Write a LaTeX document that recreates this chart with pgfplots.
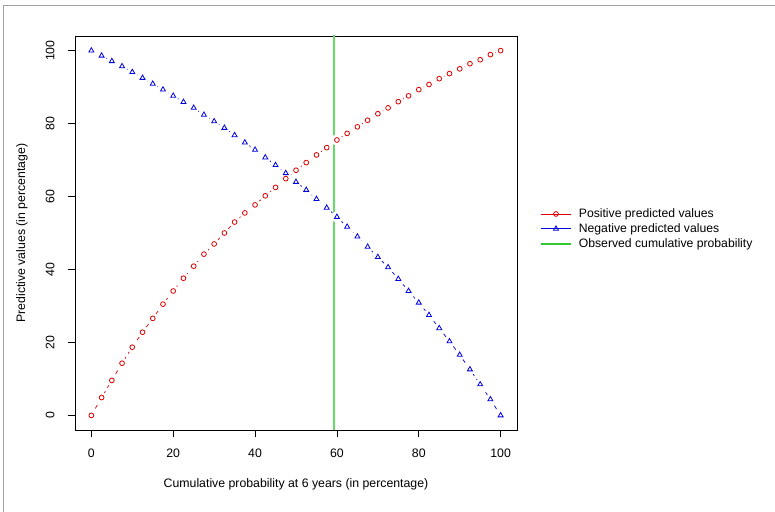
\documentclass[border=0pt]{standalone}
\usepackage{fontspec}
\setmainfont{Liberation Sans}
\usepackage{pgfplots}
\pgfplotsset{compat=1.18}
\usepackage{pgfplotstable}

\definecolor{rred}{RGB}{223,0,0}
\definecolor{rblue}{RGB}{0,0,225}
\definecolor{rgreen}{RGB}{100,220,100}
\definecolor{lgreen}{RGB}{50,200,50}
\definecolor{framegray}{RGB}{160,163,163}

% x = cumulative probability (%), pos / neg = predicted values (%)
\pgfplotstableread{
x     pos    neg
0     0.0    100.0
2.5   4.9    98.6
5     9.6    97.1
7.5   14.3   95.7
10    18.7   94.1
12.5  22.8   92.5
15    26.6   90.9
17.5  30.5   89.3
20    34.1   87.6
22.5  37.6   85.9
25    40.9   84.3
27.5  44.2   82.4
30    47.0   80.6
32.5  50.0   78.8
35    53.0   76.8
37.5  55.5   74.8
40    57.7   72.8
42.5  60.2   70.7
45    62.5   68.6
47.5  64.9   66.4
50    67.2   64.0
52.5  69.3   61.8
55    71.4   59.3
57.5  73.4   56.9
60    75.5   54.4
62.5  77.3   51.7
65    79.1   49.0
67.5  80.9   46.2
70    82.7   43.4
72.5  84.3   40.6
75    86.0   37.4
77.5  87.6   34.1
80    89.3   30.9
82.5  90.7   27.5
85    92.3   23.9
87.5  93.7   20.3
90    95.0   16.6
92.5  96.4   12.6
95    97.5   8.5
97.5  98.9   4.4
100   100.0  0.0
}\ppv

\begin{document}
\begin{tikzpicture}
\path[use as bounding box] (0bp,0bp) rectangle (775bp,512bp);
\draw[framegray, line width=1.8bp] (3.5bp,0bp) -- (3.5bp,506.5bp) -- (775bp,506.5bp);
\begin{axis}[
    at={(75bp,82bp)}, anchor=south west,
    width=442bp, height=394bp, scale only axis,
    xmin=-4, xmax=104, ymin=-4, ymax=104,
    font=\fontsize{12.3bp}{14bp}\selectfont,
    /pgf/number format/assume math mode=true,
    axis line style={black, line width=0.8bp},
    tick style={black, line width=0.8bp},
    tick align=outside, major tick length=7bp,
    xtick={0,20,...,100}, ytick={0,20,...,100},
    xtick pos=bottom, ytick pos=left,
    xticklabel style={yshift=-8bp},
    yticklabel style={rotate=90, anchor=south, yshift=10bp},
    xlabel={Cumulative probability at 6 years (in percentage)},
    ylabel={Predictive values (in percentage)},
    xlabel style={at={(axis description cs:0.5,-0.138)}, anchor=center},
    ylabel style={at={(axis description cs:-0.12,0.5)}, anchor=center},
    legend cell align=left,
    legend image code/.code={\draw[mark repeat=2, mark phase=2, #1]
        plot coordinates {(0bp,0bp) (15bp,0bp) (30bp,0bp)};},
    legend style={at={(1.045,0.572)}, anchor=north west, draw=none, fill=none,
        font=\fontsize{12.2bp}{14bp}\selectfont,
        row sep=0.5bp,
        /tikz/every odd column/.append style={column sep=5bp}},
]
% dashed lines with gaps round the points (R type "b")
\addplot[rred, dash pattern=on 4bp off 4bp, line width=0.7bp, forget plot] table[x=x, y=pos] {\ppv};
\addplot[white, only marks, mark=*, mark size=5.5bp, forget plot] table[x=x, y=pos] {\ppv};
\addplot[rblue, dash pattern=on 4bp off 4bp, line width=0.7bp, forget plot] table[x=x, y=neg] {\ppv};
\addplot[white, only marks, mark=*, mark size=5.5bp, forget plot] table[x=x, y=neg] {\ppv};
\addplot[rred, only marks, mark=o, mark size=2.4bp, line width=0.8bp, forget plot] table[x=x, y=pos] {\ppv};
\addplot[rblue, only marks, mark=triangle, mark size=2.9bp, line width=0.8bp, forget plot] table[x=x, y=neg] {\ppv};
% observed cumulative probability
\addplot[rgreen, line width=1.6bp, forget plot] coordinates {(59.3,-10) (59.3,110)};

\addlegendimage{rred, line width=0.8bp, mark=o, mark size=2.4bp}
\addlegendentry{Positive predicted values}
\addlegendimage{rblue, line width=0.8bp, mark=triangle, mark size=2.9bp}
\addlegendentry{Negative predicted values}
\addlegendimage{draw=lgreen, line width=1.8bp}
\addlegendentry{Observed cumulative probability}
\end{axis}
\end{tikzpicture}
\end{document}
